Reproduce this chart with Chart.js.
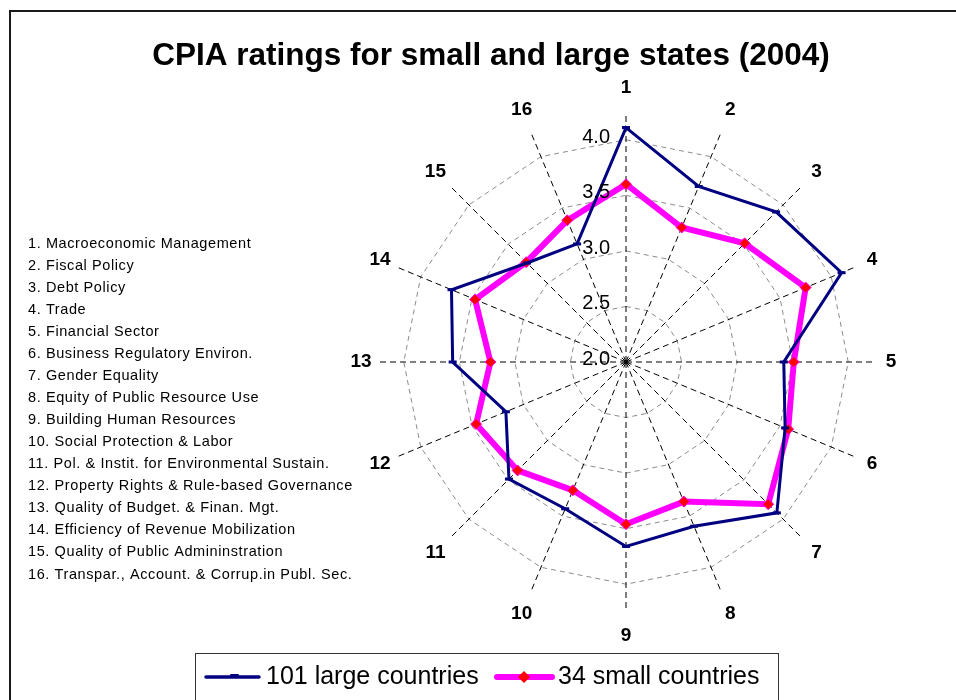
<!DOCTYPE html>
<html><head><meta charset="utf-8">
<script src="https://cdn.jsdelivr.net/npm/chart.js@4.4.1/dist/chart.umd.min.js"></script>
<style>html,body{margin:0;padding:0;background:#fff}canvas{display:block}</style>
</head><body>
<canvas id="c" width="956" height="700"></canvas>
<script>
const categories = ['1','2','3','4','5','6','7','8','9','10','11','12','13','14','15','16'];
const criteria = [
  '1. Macroeconomic Management',
  '2. Fiscal Policy',
  '3. Debt Policy',
  '4. Trade',
  '5. Financial Sector',
  '6. Business Regulatory Environ.',
  '7. Gender Equality',
  '8. Equity of Public Resource Use',
  '9. Building Human Resources',
  '10. Social Protection & Labor',
  '11. Pol. & Instit. for Environmental Sustain.',
  '12. Property Rights & Rule-based Governance',
  '13. Quality of Budget. & Finan. Mgt.',
  '14. Efficiency of Revenue Mobilization',
  '15. Quality of Public Admininstration',
  '16. Transpar., Account. & Corrup.in Publ. Sec.'
];
const largeCountries = [4.11, 3.71, 3.91, 4.10, 3.42, 3.55, 3.92, 3.60, 3.66, 3.43, 3.49, 3.17, 3.56, 3.70, 3.26, 3.15];
const smallCountries = [3.60, 3.31, 3.51, 3.75, 3.51, 3.58, 3.81, 3.36, 3.46, 3.25, 3.38, 3.46, 3.22, 3.47, 3.27, 3.38];
const tickValues = [2.0, 2.5, 3.0, 3.5, 4.0];
const tickLabels = ['2.0', '2.5', '3.0', '3.5', '4.0'];
const seriesNames = ['101 large countries', '34 small countries'];
const titleText = 'CPIA ratings for small and large states (2004)';

const FONT = '"Liberation Sans", Arial, Helvetica, sans-serif';
const NAVY = '#000080', PINK = '#FF00FF', RED = '#FF0000';

const decor = {
  id: 'decor',
  beforeDraw(chart) {
    const ctx = chart.ctx;
    ctx.save();
    ctx.fillStyle = '#fff';
    ctx.fillRect(0, 0, chart.width, chart.height);
    ctx.strokeStyle = '#1a1a1a';
    ctx.lineWidth = 2;
    ctx.strokeRect(10, 11, 1000, 1000);
    ctx.restore();
  },
  afterDatasetsDraw(chart) {
    const ctx = chart.ctx;
    const s = chart.scales.r;
    ctx.save();
    // tick labels
    ctx.fillStyle = '#000';
    ctx.font = '20px ' + FONT;
    ctx.textAlign = 'right';
    ctx.textBaseline = 'middle';
    tickValues.forEach((v, i) => {
      const d = s.getDistanceFromCenterForValue(v);
      ctx.fillText(tickLabels[i], s.xCenter - 16, s.yCenter - d - 2.5);
    });
    // point labels
    ctx.font = 'bold 19px ' + FONT;
    ctx.textAlign = 'center';
    categories.forEach((c, i) => {
      const a = s.getIndexAngle(i);
      const dist = 265 + 9 * Math.cos(a) * Math.cos(a);
      const p = s.getPointPosition(i, dist);
      ctx.fillText(c, p.x, p.y);
    });
    // title
    ctx.font = 'bold 31.5px ' + FONT;
    ctx.textBaseline = 'alphabetic';
    ctx.fillText(titleText, 491, 65);
    // criteria list
    ctx.font = '14.5px ' + FONT;
    ctx.textAlign = 'left';
    ctx.textBaseline = 'middle';
    try { ctx.letterSpacing = '0.6px'; } catch (e) {}
    criteria.forEach((t, i) => {
      ctx.fillText(t, 28, 244 + 22 * i + (i === 15 ? 1 : 0));
    });
    try { ctx.letterSpacing = '0px'; } catch (e) {}
    // legend
    ctx.strokeStyle = '#333';
    ctx.lineWidth = 1;
    ctx.strokeRect(195.5, 653.5, 583, 100);
    const ly = 677;
    ctx.lineCap = 'round';
    ctx.strokeStyle = NAVY; ctx.lineWidth = 3.5;
    ctx.beginPath(); ctx.moveTo(206, ly); ctx.lineTo(259, ly); ctx.stroke();
    ctx.lineWidth = 2;
    ctx.beginPath(); ctx.moveTo(231, ly - 2); ctx.lineTo(238, ly - 2); ctx.stroke();
    ctx.strokeStyle = PINK; ctx.lineWidth = 6;
    ctx.beginPath(); ctx.moveTo(497, ly); ctx.lineTo(552, ly); ctx.stroke();
    ctx.fillStyle = RED;
    ctx.beginPath(); ctx.moveTo(524, ly - 6); ctx.lineTo(530, ly); ctx.lineTo(524, ly + 6); ctx.lineTo(518, ly); ctx.closePath(); ctx.fill();
    ctx.fillStyle = '#000';
    ctx.font = '25px ' + FONT;
    ctx.textAlign = 'left';
    ctx.fillText(seriesNames[0], 266, ly);
    ctx.fillText(seriesNames[1], 558, ly);
    ctx.restore();
  }
};

new Chart(document.getElementById('c'), {
  type: 'radar',
  data: {
    labels: categories,
    datasets: [
      {
        label: seriesNames[0], data: largeCountries, fill: false,
        borderColor: NAVY, backgroundColor: NAVY, borderWidth: 3,
        pointStyle: 'line', pointRadius: 4, pointBorderColor: NAVY, pointBorderWidth: 3,
        pointBackgroundColor: NAVY
      },
      {
        label: seriesNames[1], data: smallCountries, fill: false,
        borderColor: PINK, backgroundColor: PINK, borderWidth: 6,
        pointStyle: 'rectRot', pointRadius: 5.5, pointBackgroundColor: RED,
        pointBorderColor: PINK, pointBorderWidth: 1
      }
    ]
  },
  options: {
    responsive: false, animation: false, devicePixelRatio: 1,
    layout: { padding: { left: 376, right: 80, top: 112, bottom: 88 } },
    plugins: { legend: { display: false }, title: { display: false }, tooltip: { enabled: false } },
    elements: { line: { tension: 0 } },
    scales: {
      r: {
        min: 2, max: 4.25, beginAtZero: false,
        ticks: { display: false, stepSize: 0.5 },
        pointLabels: { display: false },
        grid: {
          color: (c) => (c.tick && c.tick.value > 4.001) ? 'rgba(0,0,0,0)' : '#8c8c8c',
          lineWidth: 1
        },
        border: { dash: [5, 4] },
        angleLines: { color: '#000', lineWidth: 1, borderDash: [6, 4] }
      }
    }
  },
  plugins: [decor]
});
</script>
</body></html>
